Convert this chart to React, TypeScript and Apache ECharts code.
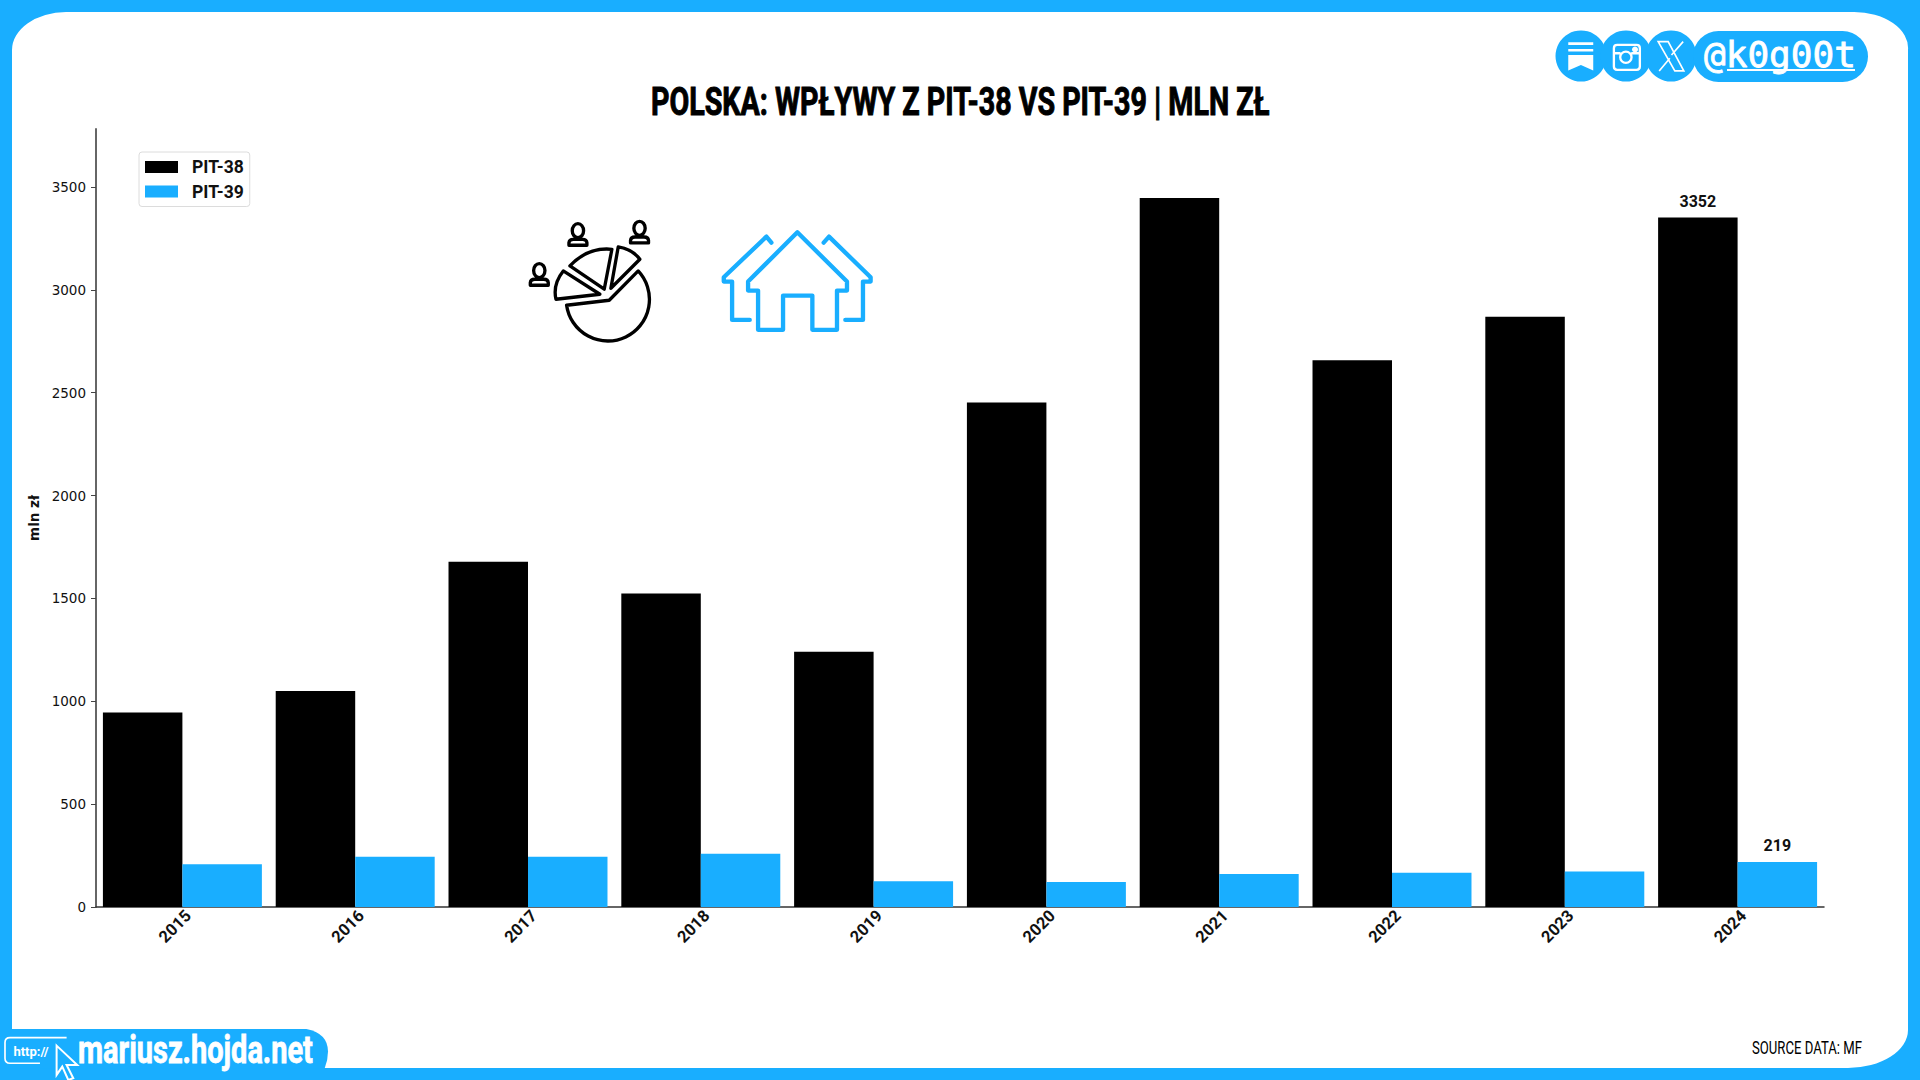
import React, { useEffect, useRef } from "react";
import * as echarts from "echarts";

const years = ["2015", "2016", "2017", "2018", "2019", "2020", "2021", "2022", "2023", "2024"];
const pit38 = [946, 1050, 1678, 1524, 1241, 2452, 3446, 2658, 2869, 3352];
const pit39 = [208, 244, 244, 259, 125, 122, 161, 167, 173, 219];
const yTicks = [0, 500, 1000, 1500, 2000, 2500, 3000, 3500];
const BLUE = "#19AEFF";

const person = (x: number, y: number) =>
  `M${x - 17} ${y - 3}A17 21 0 1 1 ${x + 17} ${y - 3}A17 21 0 1 1 ${x - 17} ${y - 3}Z` +
  `M${x - 27} ${y + 41}L${x + 27} ${y + 41}L${x + 27} ${y + 33}Q${x + 26} ${y + 23} ${x + 14} ${y + 23}L${x - 14} ${y + 23}Q${x - 26} ${y + 23} ${x - 27} ${y + 33}Z`;

const pieIcon =
  "M197 313L325 298L412 210A125 125 0 1 1 197 313Z" +
  "M165 295L297 280L187 210Q155 250 165 295Z" +
  "M207 195L310 265L333 145Q260 138 207 195Z" +
  "M330 262L417 175Q395 145 352 138Z";
const peopleIcon = person(118, 215) + person(234, 95) + person(419, 88);

const houseIcon =
  "M893 97L745 245L745 272L775 272L775 390L850 390L850 287L938 287L938 390L1012 390L1012 272L1042 272L1042 245Z" +
  "M815 128L800 110L672 232L672 245L697 245L697 360L750 360" +
  "M972 128L988 110L1113 232L1113 245L1090 245L1090 360L1037 360";

const cardShape =
  "M66 12L1853 12A54 36 0 0 1 1908 50L1908 1030A60 38 0 0 1 1848 1068L66 1068A54 36 0 0 1 12 1030L12 50A54 38 0 0 1 66 12Z";
const badgeShape = "M0 87L920 87Q985 100 985 155Q985 180 975 205L0 205Z";
const bracketIcon = "M200 113L30 113Q15 113 15 128L15 175Q15 190 30 190L120 190";
const cursorIcon = "M170 137L232 195L200 195L220 235L205 240L187 200L170 225Z";
const bookmarkIcon = "M205 127L280 127L280 135L205 135ZM205 147L280 147L280 155L205 155ZM205 165L280 165L280 212L243 195L205 212Z";
const instagramIcon =
  "M352 135L410 135Q420 135 420 145L420 200Q420 210 410 210L352 210Q342 210 342 200L342 145Q342 135 352 135Z" +
  "M361 172A17 17 0 1 1 395 172A17 17 0 1 1 361 172Z M342 160L362 160M394 160L420 160";
const xIcon = "M475 125L505 125L552 213L525 213ZM550 125L515 165M478 213L510 175";

const reg = (name: string, d: string) => echarts.graphic.registerShape(name, echarts.graphic.extendPath(d, {}) as any);
reg("cardP", cardShape);
reg("pieIconP", pieIcon);
reg("peopleP", peopleIcon);
reg("houseIconP", houseIcon);
reg("badgeP", badgeShape);
reg("bracketP", bracketIcon);
reg("cursorP", cursorIcon);
reg("bookmarkP", bookmarkIcon);
reg("instagramP", instagramIcon);
reg("xIconP", xIcon);

const measure = (text: string, font: string, width: number) => {
  const ctx = document.createElement("canvas").getContext("2d")!;
  ctx.font = font;
  return width / ctx.measureText(text).width;
};

const fitText = (text: string, font: string, left: number, width: number, y: number, fill: string, strokeW = 0) => ({
  type: "text",
  z: 6,
  x: left,
  y,
  scaleX: measure(text, font, width),
  style: { text, font, fill, textAlign: "left", textVerticalAlign: "middle", stroke: strokeW ? fill : "none", lineWidth: strokeW },
});

export default function App() {
  const ref = useRef<HTMLDivElement>(null);
  useEffect(() => {
    document.body.style.margin = "0";
    const chart = echarts.init(ref.current!, null, { renderer: "svg" });
    const third = { scaleX: 1 / 3, scaleY: 1 / 3 };
    const lastLabel = {
      show: true,
      position: "top",
      distance: 8,
      fontFamily: "Roboto",
      fontWeight: "bold",
      fontSize: 16,
      color: "#111",
      formatter: (p: any) => (p.dataIndex === years.length - 1 ? String(p.value) : ""),
    };
    chart.setOption({
      animation: false,
      backgroundColor: BLUE,
      legend: {
        orient: "vertical",
        left: 139,
        top: 152,
        padding: [6, 6, 6, 6],
        itemWidth: 33,
        itemHeight: 12,
        itemGap: 6.5,
        icon: "rect",
        borderColor: "#dcdcdc",
        borderWidth: 1,
        borderRadius: 3,
        backgroundColor: "#fff",
        textStyle: { fontFamily: "Roboto", fontWeight: "bold", fontSize: 17.5, color: "#111", padding: [0, 0, 0, 9] },
        data: ["PIT-38", "PIT-39"],
      },
      grid: { left: 96, right: 96, top: 129, bottom: 173 },
      xAxis: {
        type: "category",
        data: years,
        axisLine: { lineStyle: { color: "#333", width: 1.5 } },
        axisTick: { alignWithLabel: true, length: 5, lineStyle: { color: "#222", width: 1 } },
        axisLabel: { rotate: 45, margin: 0, verticalAlign: "top", fontFamily: "Roboto", fontWeight: "bold", fontSize: 16.5, color: "#111" },
      },
      yAxis: {
        type: "value",
        min: 0,
        max: 3782,
        name: "mln zł",
        nameLocation: "middle",
        nameGap: 48,
        nameTextStyle: { fontFamily: "DejaVu Sans", fontWeight: "bold", fontSize: 13.5, color: "#111" },
        splitLine: { show: false },
        axisLine: { show: true, lineStyle: { color: "#666", width: 2 } },
        axisTick: { show: true, length: 5, customValues: yTicks, lineStyle: { color: "#444", width: 1 } },
        axisLabel: { customValues: yTicks, margin: 10, fontFamily: "DejaVu Sans", fontSize: 13.5, color: "#111", formatter: (v: number) => String(v) },
      },
      series: [
        { name: "PIT-38", type: "bar", barWidth: "46%", barGap: 0, itemStyle: { color: "#000" }, label: lastLabel, data: pit38 },
        { name: "PIT-39", type: "bar", barWidth: "46%", barGap: 0, itemStyle: { color: BLUE }, label: lastLabel, data: pit39 },
      ],
      graphic: [
        { type: "cardP", z: -10, silent: true, style: { fill: "#fff" } },
        fitText("POLSKA: WPŁYWY Z PIT-38 VS PIT-39 | MLN ZŁ", "bold 38px Roboto", 651, 619, 102, "#000", 1),
        { type: "pieIconP", z: 5, x: 501, y: 201, ...third, style: { fill: "none", stroke: "#000", lineWidth: 10, lineJoin: "round" } },
        { type: "peopleP", z: 5, x: 500, y: 200, ...third, style: { fill: "none", stroke: "#000", lineWidth: 10, lineJoin: "round" } },
        { type: "houseIconP", z: 5, x: 500, y: 200, ...third, style: { fill: "none", stroke: BLUE, lineWidth: 13, lineJoin: "round", lineCap: "round" } },
        { type: "circle", z: 5, shape: { cx: 1581, cy: 56, r: 25.5 }, style: { fill: BLUE } },
        { type: "circle", z: 5, shape: { cx: 1626, cy: 56, r: 25.5 }, style: { fill: BLUE } },
        { type: "circle", z: 5, shape: { cx: 1671, cy: 56, r: 25.5 }, style: { fill: BLUE } },
        { type: "rect", z: 5, shape: { x: 1693, y: 31, width: 175, height: 51, r: 25.5 }, style: { fill: BLUE } },
        { type: "bookmarkP", z: 6, x: 1500, y: 0, ...third, style: { fill: "#fff" } },
        { type: "instagramP", z: 6, x: 1500, y: 0, ...third, style: { fill: "none", stroke: "#fff", lineWidth: 7 } },
        { type: "circle", z: 6, shape: { cx: 1635, cy: 49.5, r: 3 }, style: { fill: "#fff" } },
        { type: "xIconP", z: 6, x: 1500, y: 0, ...third, style: { fill: "none", stroke: "#fff", lineWidth: 5 } },
        fitText("@k0g00t", '36px "DejaVu Sans Mono", monospace', 1704, 152, 55, "#fff", 0.8),
        { type: "line", z: 6, shape: { x1: 1727, y1: 70, x2: 1855, y2: 70 }, style: { stroke: "#fff", lineWidth: 2 } },
        { type: "badgeP", z: 5, x: 0, y: 1000, ...third, style: { fill: BLUE } },
        { type: "bracketP", z: 6, x: 0, y: 1000, ...third, style: { fill: "none", stroke: "#fff", lineWidth: 5 } },
        { type: "cursorP", z: 6, x: 0, y: 1000, ...third, style: { fill: BLUE, stroke: "#fff", lineWidth: 6 } },
        { type: "text", z: 6, x: 31, y: 1051, style: { text: "http://", fill: "#fff", font: "bold 13px Roboto", textAlign: "center", textVerticalAlign: "middle" } },
        fitText("mariusz.hojda.net", "bold 38px Roboto", 78, 235, 1050, "#fff", 0.8),
        fitText("SOURCE DATA: MF", "18px Roboto", 1752, 110, 1048, "#000"),
      ],
    });
    return () => chart.dispose();
  }, []);
  return <div ref={ref} style={{ position: "absolute", left: 0, top: 0, width: 1920, height: 1080 }} />;
}
